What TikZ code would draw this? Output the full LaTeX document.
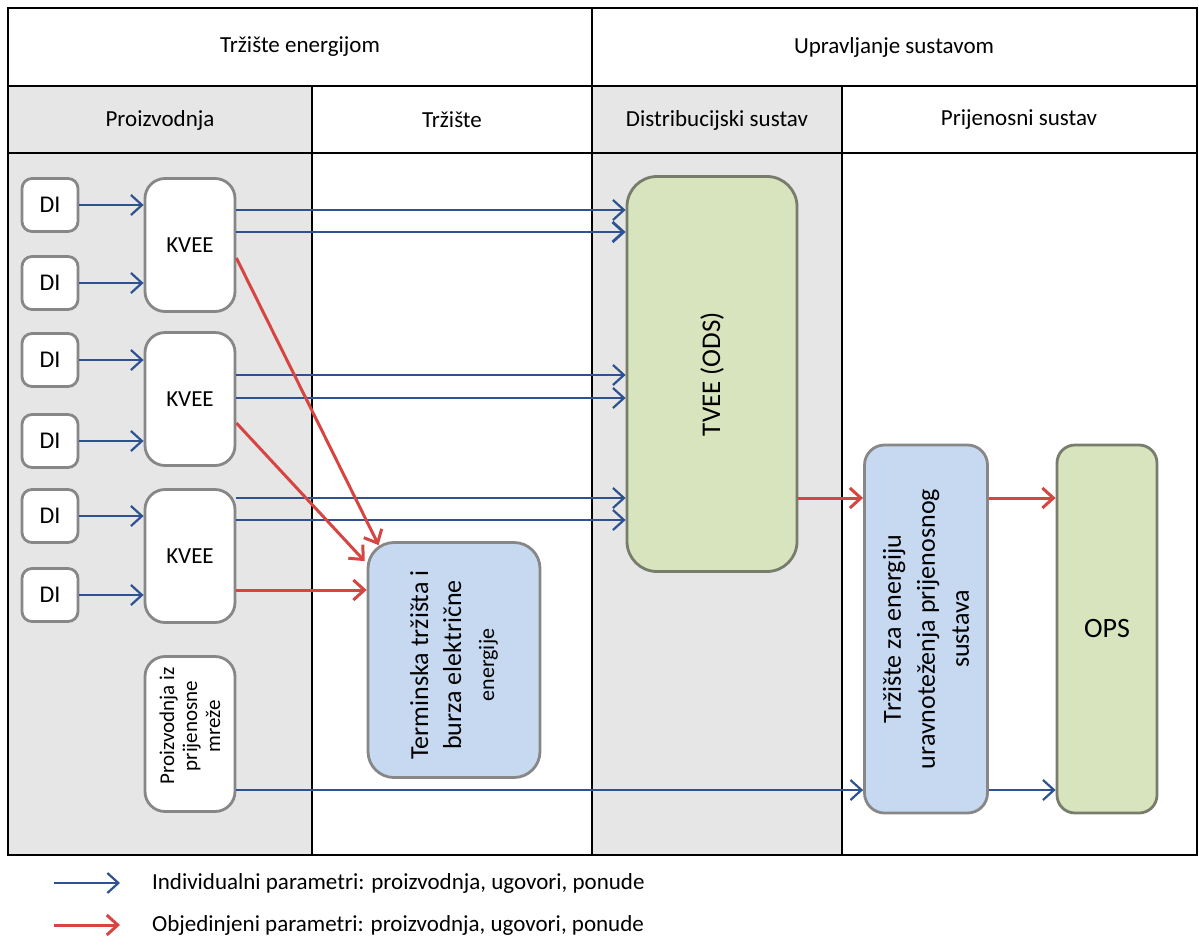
\documentclass[tikz,border=0pt]{standalone}
\usepackage{fontspec}
\setmainfont{Carlito}
\usetikzlibrary{calc,arrows.meta}
\definecolor{arrblue}{RGB}{46,82,145}
\definecolor{arrred}{RGB}{214,69,65}
\definecolor{colgray}{RGB}{230,230,230}
\definecolor{boxline}{RGB}{135,135,135}
\definecolor{odsline}{RGB}{120,124,108}
\definecolor{odsgreen}{RGB}{215,228,189}
\definecolor{mktblue}{RGB}{198,217,241}
\tikzset{
    dibox/.style={draw=boxline,line width=1.4pt,fill=white,rounded corners=5pt,
        minimum width=28pt,minimum height=26.5pt,font=\fontsize{12}{14}\selectfont},
    kveebox/.style={draw=boxline,line width=1.4pt,fill=white,rounded corners=10pt,
        minimum width=45pt,minimum height=66.5pt,font=\fontsize{11.5}{13}\selectfont},
    greenbox/.style={draw=odsline,line width=1.4pt,fill=odsgreen,rounded corners=15pt},
    bluebox/.style={draw=boxline,line width=1.4pt,fill=mktblue,rounded corners=13pt},
    vtext/.style={rotate=90,align=center,inner sep=0pt},
    headtext/.style={font=\fontsize{11.5}{13}\selectfont},
    indiv/.style={->,draw=arrblue,line width=1.1pt},
    joint/.style={->,draw=arrred,line width=1.5pt},
}

\begin{document}
\begin{tikzpicture}[x=0.5pt,y=-0.5pt,>={Straight Barb[length=5.5pt,width=10pt]}]
        \useasboundingbox (0,0) rectangle (1199,948);

        \fill[colgray] (8,86) rectangle (312,855);
        \fill[colgray] (592,86) rectangle (842,855);
        \draw[line width=1pt] (8,8) rectangle (1197,855);
        \draw[line width=1pt] (8,86) -- (1197,86);
        \draw[line width=1pt] (8,153) -- (1197,153);
        \draw[line width=1pt] (592,8) -- (592,855);
        \draw[line width=1pt] (312,86) -- (312,855);
        \draw[line width=1pt] (842,86) -- (842,855);

        \node (h1) [headtext] at (300,47) {Tržište energijom};
        \node (h2) [headtext] at (894,47) {Upravljanje sustavom};
        \node (h3) [headtext] at (160,120) {Proizvodnja};
        \node (h4) [headtext] at (452,120) {Tržište};
        \node (h5) [headtext] at (717,120) {Distribucijski sustav};
        \node (h6) [headtext] at (1019,120) {Prijenosni sustav};

        \node (di1) [dibox] at (50,205) {DI};
        \node (di2) [dibox] at (50,283) {DI};
        \node (di3) [dibox] at (50,360) {DI};
        \node (di4) [dibox] at (50,441) {DI};
        \node (di5) [dibox] at (50,516) {DI};
        \node (di6) [dibox] at (50,595) {DI};

        \node (kvee1) [kveebox] at (190,245) {KVEE};
        \node (kvee2) [kveebox] at (190,399) {KVEE};
        \node (kvee3) [kveebox] at (190,556) {KVEE};
        \node (prod) [kveebox,minimum height=77.5pt] at (190,734) {};
        \node (prodtxt) [vtext,font=\fontsize{10.5}{11.5}\selectfont] at ($(prod)+(0,-8)$)
            {Proizvodnja iz\\prijenosne\\mreže};

        \node (tvee) [greenbox,minimum width=85pt,minimum height=197.5pt] at (712,374) {};
        \node (tveetxt) [vtext,font=\fontsize{13.5}{15}\selectfont] at (tvee) {TVEE (ODS)};

        \node (term) [bluebox,minimum width=86pt,minimum height=117.5pt] at (454,660) {};
        \node (termtxt) [vtext,font=\fontsize{13}{16.5}\selectfont] at ($(term)+(0,5)$)
            {Terminska tržišta i\\burza električne\\{\fontsize{11}{16.5}\selectfont energije}};

        \node (bal) [bluebox,rounded corners=10pt,minimum width=61.5pt,minimum height=184pt] at (926,629) {};
        \node (baltxt) [vtext,font=\fontsize{13}{17}\selectfont] at (bal)
            {Tržište za energiju\\uravnoteženja prijenosnog\\sustava};

        \node (ops) [greenbox,rounded corners=9pt,minimum width=50pt,minimum height=184pt,
            font=\fontsize{14}{16}\selectfont] at (1107,629) {OPS};

        \draw[indiv] (di1.east) -- (di1.east -| kvee1.west);
        \draw[indiv] (di2.east) -- (di2.east -| kvee1.west);
        \draw[indiv] (di3.east) -- (di3.east -| kvee2.west);
        \draw[indiv] (di4.east) -- (di4.east -| kvee2.west);
        \draw[indiv] (di5.east) -- (di5.east -| kvee3.west);
        \draw[indiv] (di6.east) -- (di6.east -| kvee3.west);

        \draw[indiv] (kvee1.east |- 0,210) -- (tvee.west |- 0,210);
        \draw[indiv,line width=1.4pt] (kvee1.east |- 0,232) -- (tvee.west |- 0,232);
        \draw[indiv] (kvee2.east |- 0,375) -- (tvee.west |- 0,375);
        \draw[indiv] (kvee2.east |- 0,398) -- (tvee.west |- 0,398);
        \draw[indiv] (kvee3.east |- 0,498) -- (tvee.west |- 0,498);
        \draw[indiv] (kvee3.east |- 0,520) -- (tvee.west |- 0,520);

        \draw[joint] (kvee1.east |- 0,258) -- ($(term.north west)+(12,4)$);
        \draw[joint] (kvee2.east |- 0,423) -- ($(term.north west)+(-2,20)$);
        \draw[joint] (kvee3.east |- 0,590) -- (term.west |- 0,590);
        \draw[joint] (tvee.east |- 0,498) -- (bal.west |- 0,498);
        \draw[joint] (bal.east |- 0,498) -- (ops.west |- 0,498);

        \draw[indiv] (prod.east |- 0,790) -- (bal.west |- 0,790);
        \draw[indiv] (bal.east |- 0,790) -- (ops.west |- 0,790);

        \coordinate (lega) at (54,883);
        \coordinate (legb) at (54,925);
        \draw[indiv] (lega) -- ++(66,0);
        \draw[joint] (legb) -- ++(66,0);
        \node (legatxt) [headtext,anchor=west] at (145,883) {Individualni parametri: proizvodnja, ugovori, ponude};
        \node (legbtxt) [headtext,anchor=west] at (145,925) {Objedinjeni parametri: proizvodnja, ugovori, ponude};
\end{tikzpicture}
\end{document}
